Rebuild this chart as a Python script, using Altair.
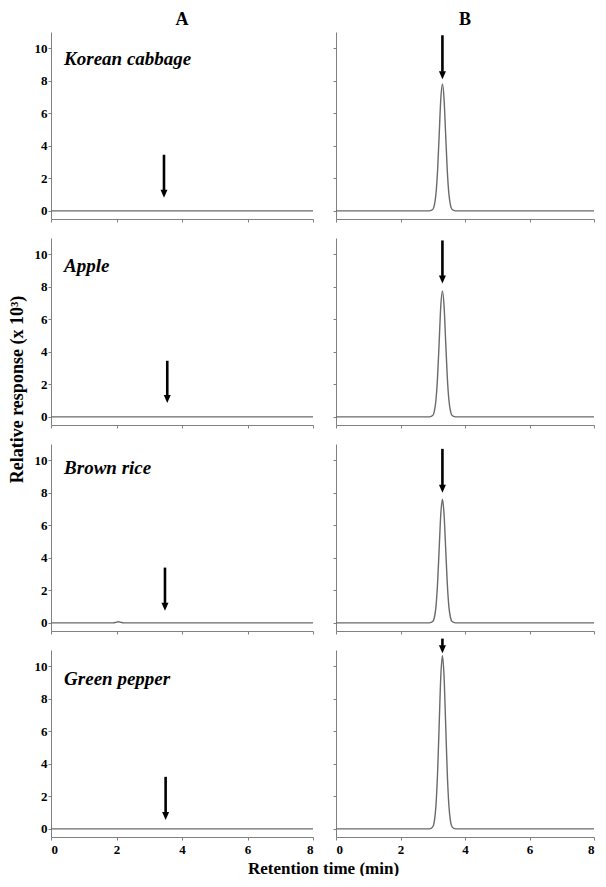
import altair as alt
import pandas as pd

# ---------------- data ----------------
samples = ["Korean cabbage", "Apple", "Brown rice", "Green pepper"]
columns = ["A", "B"]

x_ticks = [0, 2, 4, 6, 8]
y_ticks = [0, 2, 4, 6, 8, 10]

# column A traces (blank matrix)
times_A = [0, 1.9, 1.98, 2.06, 2.14, 2.22, 8]
cabbage_A = [0, 0, 0, 0, 0, 0, 0]
apple_A = [0, 0, 0, 0, 0, 0, 0]
rice_A = [0, 0, 0.03, 0.07, 0.03, 0, 0]
pepper_A = [0, 0, 0, 0, 0, 0, 0]

# column B traces (spiked matrix)
times_B = [0, 2.9, 3.0, 3.05, 3.1, 3.15, 3.2, 3.25, 3.3, 3.35, 3.4, 3.45, 3.5, 3.55, 3.6, 3.7, 8]
cabbage_B = [0, 0, 0.08, 0.35, 1.05, 2.5, 4.7, 6.9, 7.8, 6.9, 4.7, 2.5, 1.05, 0.35, 0.08, 0, 0]
apple_B = [0, 0, 0.08, 0.35, 1.05, 2.48, 4.65, 6.85, 7.75, 6.85, 4.65, 2.48, 1.05, 0.35, 0.08, 0, 0]
rice_B = [0, 0, 0.08, 0.33, 1.0, 2.45, 4.6, 6.7, 7.6, 6.7, 4.6, 2.45, 1.0, 0.33, 0.08, 0, 0]
pepper_B = [0, 0, 0.12, 0.47, 1.45, 3.45, 6.45, 9.4, 10.65, 9.4, 6.45, 3.45, 1.45, 0.47, 0.12, 0, 0]

# arrows (x position, top of shaft, tip)
arrow_A_x = [3.45, 3.55, 3.48, 3.5]
arrow_A_top = [3.45, 3.45, 3.4, 3.2]
arrow_A_tip = [0.8, 0.85, 0.75, 0.55]
arrow_B_x = [3.3, 3.3, 3.3, 3.3]
arrow_B_top = [10.8, 10.85, 10.7, 11.7]
arrow_B_tip = [8.1, 8.2, 8.0, 10.8]

# sample labels
label_x = [0.4, 0.4, 0.4, 0.4]
label_y = [9.0, 8.9, 9.15, 8.85]

traces_A = [cabbage_A, apple_A, rice_A, pepper_A]
traces_B = [cabbage_B, apple_B, rice_B, pepper_B]

FONT = "Liberation Serif"
HEAD = "M-0.875,-2L0.875,-2L0,0Z"
H = 187
WA = 262
WB = 258


def panel(i, col):
    if col == "A":
        tdf = pd.DataFrame({"t": times_A, "v": traces_A[i]})
        adf = pd.DataFrame({"t": [arrow_A_x[i]], "top": [arrow_A_top[i]], "tip": [arrow_A_tip[i]]})
        width = WA
    else:
        tdf = pd.DataFrame({"t": times_B, "v": traces_B[i]})
        adf = pd.DataFrame({"t": [arrow_B_x[i]], "top": [arrow_B_top[i]], "tip": [arrow_B_tip[i]]})
        width = WB

    xargs = dict(values=x_ticks, labels=(i == 3), title=None, labelPadding=3)
    if i == 3 and col == "B":
        xargs.update(labelFlush=True)
    if i == 3 and col == "A":
        xargs.update(title="Retention time (min)", titleX=272, titleY=36,
                     titleAlign="center", titleBaseline="alphabetic",
                     titleFontSize=17, titleFont=FONT, titleFontWeight="bold",
                     titleColor="black")
    yargs = dict(values=y_ticks, labels=(col == "A"), title=None, labelPadding=1)
    if i == 1 and col == "A":
        yargs.update(title="Relative response (x 10\u00b3)", titleX=-29, titleY=151,
                     titleAngle=270, titleAlign="center", titleBaseline="alphabetic",
                     titleFontSize=18, titleFont=FONT, titleFontWeight="bold",
                     titleColor="black")
    xs = alt.Scale(domain=[0, 8], nice=False)
    ys = alt.Scale(domain=[-0.5, 11], nice=False, zero=False)

    def X(f):
        return alt.X(f, type="quantitative", scale=xs, axis=alt.Axis(**xargs))

    def Y(f):
        return alt.Y(f, type="quantitative", scale=ys, axis=alt.Axis(**yargs))

    line = alt.Chart(tdf).mark_line(
        color="#6a6a6a", strokeWidth=1.4, interpolate="monotone"
    ).encode(x=X("t"), y=Y("v"))

    shaft = alt.Chart(adf).transform_calculate(
        base="datum.tip + 0.45"
    ).mark_rule(color="black", strokeWidth=2.6).encode(
        x=X("t"), y=Y("top"), y2="base:Q"
    )
    head = alt.Chart(adf).mark_point(
        shape=HEAD, size=64, filled=True, color="black", opacity=1, strokeWidth=0
    ).encode(x=X("t"), y=Y("tip"))

    layers = [line, shaft, head]
    if col == "A":
        ldf = pd.DataFrame({"x": [label_x[i]], "y": [label_y[i]], "label": [samples[i]]})
        text = alt.Chart(ldf).mark_text(
            align="left", baseline="alphabetic", font=FONT, fontStyle="italic",
            fontWeight="bold", fontSize=19, color="black"
        ).encode(x=X("x"), y=Y("y"), text="label:N")
        layers.append(text)

    ch = alt.layer(*layers).properties(width=width, height=H)
    if i == 0:
        ch = ch.properties(title=alt.TitleParams(
            col, font=FONT, fontSize=18, fontWeight="bold", color="black",
            anchor="middle", offset=3))
    return ch


cells = []
for i in range(4):
    for col in columns:
        cells.append(panel(i, col))

chart = alt.concat(
    *cells, columns=2, spacing={"row": 19, "column": 23}, bounds="flush"
).properties(
    padding={"left": 0, "top": 3, "right": 0, "bottom": 0},
    background="white",
).configure_view(stroke=None).configure_axis(
    grid=False, domainColor="#808080", tickColor="#808080", tickSize=3,
    domainWidth=1, tickWidth=1,
    labelFont=FONT, labelFontWeight="bold", labelFontSize=13, labelColor="black",
)

chart.save("out.html", embed_options={"renderer": "svg", "actions": False})
